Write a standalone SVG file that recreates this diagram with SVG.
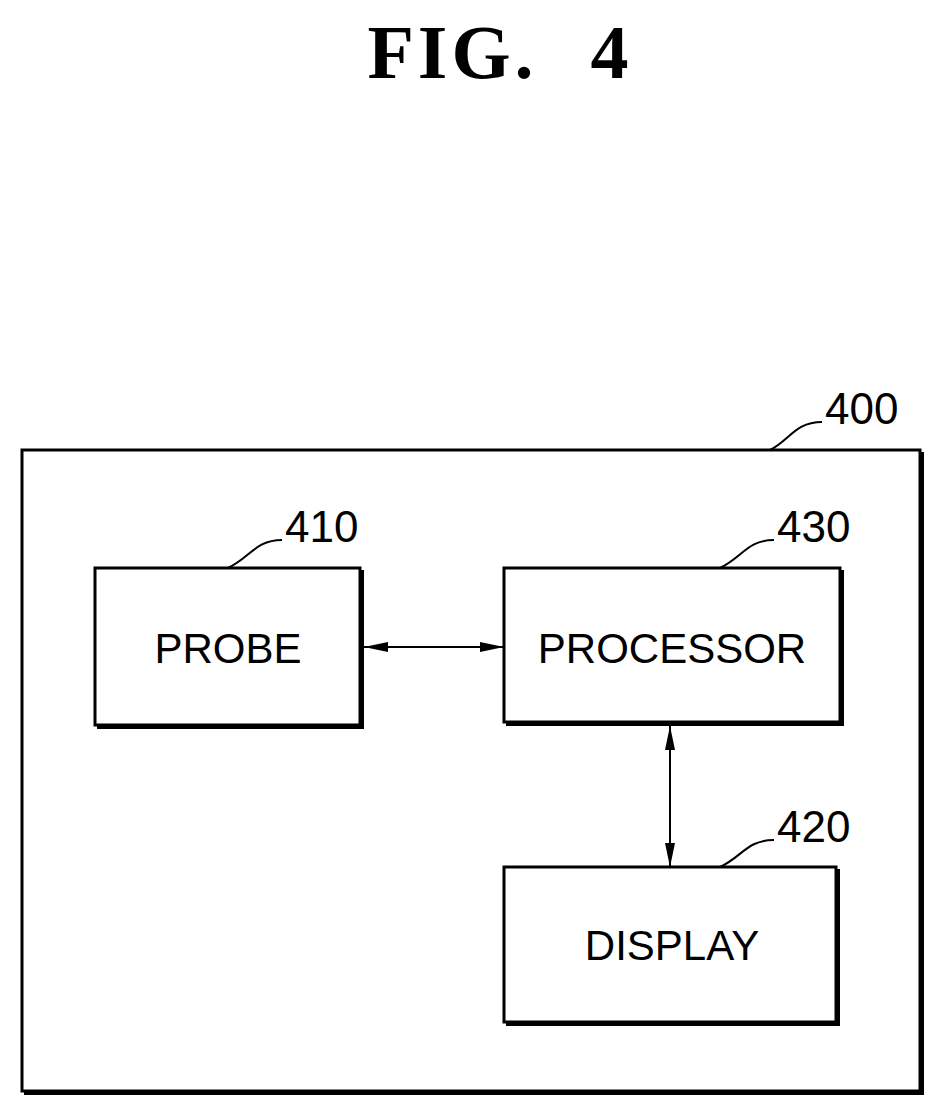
<svg xmlns="http://www.w3.org/2000/svg" width="945" height="1118" viewBox="0 0 945 1118">
<defs>
<style>
.box{fill:#fff;stroke:#000;stroke-width:3}
.sh{fill:none;stroke:#000;stroke-width:4}
.lbl{font-family:"Liberation Sans",Arial,sans-serif;font-size:42px;fill:#000}
.num{font-family:"Liberation Sans",Arial,sans-serif;font-size:44px;fill:#000}
.lead{fill:none;stroke:#000;stroke-width:2}
.conn{stroke:#000;stroke-width:2;fill:none;marker-start:url(#a);marker-end:url(#a)}
</style>
<marker id="a" viewBox="0 0 24 12" refX="24" refY="6" markerWidth="24" markerHeight="12" markerUnits="userSpaceOnUse" orient="auto-start-reverse"><path d="M0,1 L24,6 L0,11 Z" fill="#000"/></marker>
</defs>
<rect width="945" height="1118" fill="#fff"/>
<text x="500" y="78" text-anchor="middle" font-family="Liberation Serif,serif" font-weight="bold" font-size="76" letter-spacing="4" word-spacing="30">FIG. 4</text>
<g id="n400">
<rect class="box" x="22" y="450" width="898" height="641"/>
<path class="sh" d="M922,452 V1093 H24"/>
<path class="lead" d="M770,450 C790,440 795,422 822,422"/>
<text class="num" x="825" y="424">400</text>
</g>
<g id="n410">
<rect class="box" x="95" y="568" width="265" height="157"/>
<path class="sh" d="M362,570 V727 H97"/>
<path class="lead" d="M228,568 C250,558 255,540 282,540"/>
<text class="num" x="285" y="542">410</text>
<text class="lbl" x="228" y="663" text-anchor="middle">PROBE</text>
</g>
<g id="n430">
<rect class="box" x="504" y="568" width="336" height="154"/>
<path class="sh" d="M842,570 V724 H506"/>
<path class="lead" d="M720,568 C742,558 747,540 774,540"/>
<text class="num" x="777" y="542">430</text>
<text class="lbl" x="672" y="663" text-anchor="middle">PROCESSOR</text>
</g>
<g id="n420">
<rect class="box" x="504" y="867" width="332" height="155"/>
<path class="sh" d="M838,869 V1024 H506"/>
<path class="lead" d="M720,867 C742,857 747,840 774,840"/>
<text class="num" x="777" y="842">420</text>
<text class="lbl" x="672" y="960" text-anchor="middle">DISPLAY</text>
</g>
<g id="connectors">
<line class="conn" x1="364" y1="647" x2="504" y2="647"/>
<line class="conn" x1="670" y1="726" x2="670" y2="867"/>
</g>
</svg>
